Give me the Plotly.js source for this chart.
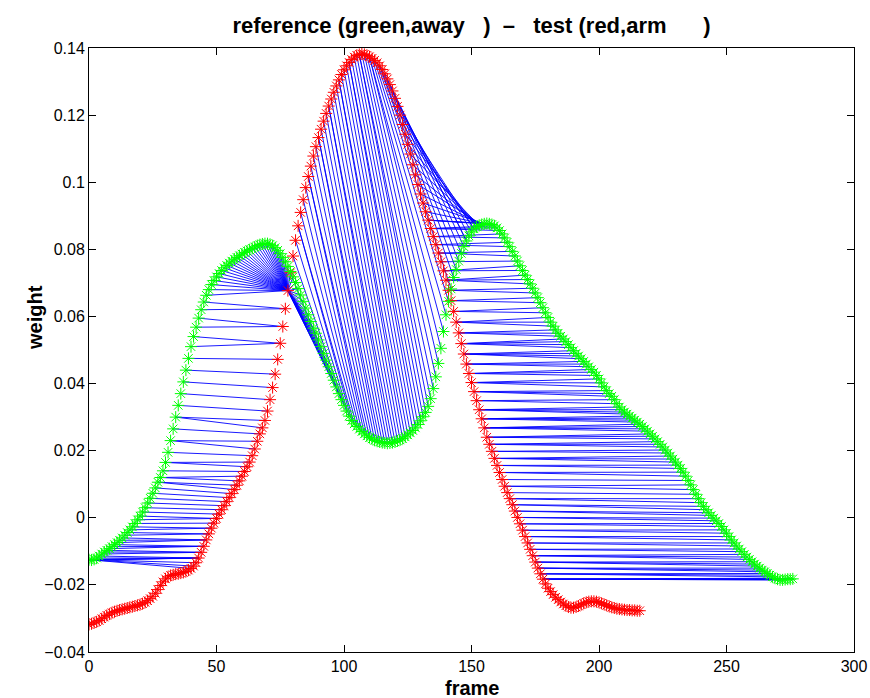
<!DOCTYPE html>
<html>
<head>
<meta charset="utf-8">
<script src="https://cdn.plot.ly/plotly-3.0.1.min.js"></script>
<style>html,body{margin:0;padding:0;background:#fff;}#chart{width:870px;height:698px;}</style>
</head>
<body>
<div id="chart"></div>
<script>
// Reference sequence (green, "away"), one value per frame starting at frame 0
const referenceWeight = [
-0.0125,-0.0126,-0.0124,-0.0120,-0.0114,-0.0108,-0.0102,-0.0097,-0.0092,-0.0086,
-0.0080,-0.0074,-0.0067,-0.0060,-0.0052,-0.0044,-0.0036,-0.0027,-0.0017,-0.0006,
0.0005,0.0017,0.0030,0.0044,0.0058,0.0073,0.0089,0.0106,0.0120,0.0140,
0.0165,0.0195,0.0230,0.0265,0.0300,0.0335,0.0370,0.0405,0.0440,0.0475,
0.0510,0.0540,0.0568,0.0595,0.0620,0.0643,0.0663,0.0680,0.0695,0.0707,
0.0718,0.0728,0.0737,0.0745,0.0752,0.0759,0.0765,0.0771,0.0776,0.0781,
0.0786,0.0791,0.0795,0.0799,0.0803,0.0807,0.0811,0.0814,0.0816,0.0817,
0.0817,0.0815,0.0811,0.0805,0.0797,0.0787,0.0776,0.0763,0.0749,0.0734,
0.0718,0.0701,0.0683,0.0664,0.0645,0.0625,0.0605,0.0585,0.0565,0.0550,
0.0530,0.0510,0.0490,0.0470,0.0450,0.0430,0.0410,0.0390,0.0370,0.0352,
0.0335,0.0318,0.0303,0.0290,0.0280,0.0272,0.0264,0.0257,0.0250,0.0244,
0.0239,0.0235,0.0231,0.0228,0.0226,0.0224,0.0223,0.0222,0.0223,0.0224,
0.0226,0.0229,0.0232,0.0236,0.0241,0.0247,0.0253,0.0260,0.0268,0.0278,
0.0289,0.0301,0.0314,0.0332,0.0355,0.0385,0.0420,0.0460,0.0505,0.0555,
0.0605,0.0645,0.0682,0.0716,0.0740,0.0765,0.0788,0.0808,0.0825,0.0840,
0.0852,0.0861,0.0867,0.0871,0.0874,0.0876,0.0877,0.0876,0.0874,0.0870,
0.0864,0.0856,0.0846,0.0834,0.0821,0.0808,0.0794,0.0780,0.0765,0.0751,
0.0737,0.0723,0.0710,0.0697,0.0684,0.0670,0.0656,0.0641,0.0626,0.0611,
0.0597,0.0583,0.0571,0.0560,0.0550,0.0541,0.0533,0.0525,0.0516,0.0507,
0.0498,0.0490,0.0482,0.0474,0.0466,0.0458,0.0450,0.0442,0.0434,0.0424,
0.0414,0.0402,0.0390,0.0379,0.0370,0.0362,0.0352,0.0340,0.0330,0.0322,
0.0315,0.0309,0.0303,0.0297,0.0291,0.0285,0.0279,0.0272,0.0265,0.0258,
0.0250,0.0243,0.0235,0.0227,0.0219,0.0211,0.0202,0.0193,0.0184,0.0175,
0.0166,0.0157,0.0147,0.0136,0.0124,0.0111,0.0098,0.0084,0.0070,0.0057,
0.0045,0.0034,0.0024,0.0015,0.0007,-0.0001,-0.0009,-0.0017,-0.0026,-0.0036,
-0.0046,-0.0056,-0.0066,-0.0075,-0.0084,-0.0093,-0.0101,-0.0109,-0.0117,-0.0124,
-0.0131,-0.0138,-0.0144,-0.0150,-0.0156,-0.0161,-0.0166,-0.0171,-0.0176,-0.0180,
-0.0183,-0.0185,-0.0185,-0.0184,-0.0183,-0.0183,-0.0182
];

// Test sequence (red, "arm"), one value per frame starting at frame 0
const testWeight = [
-0.0318,-0.0316,-0.0313,-0.0310,-0.0306,-0.0301,-0.0296,-0.0291,-0.0287,-0.0283,
-0.0280,-0.0277,-0.0275,-0.0273,-0.0271,-0.0269,-0.0267,-0.0265,-0.0263,-0.0261,
-0.0259,-0.0256,-0.0252,-0.0247,-0.0241,-0.0234,-0.0225,-0.0214,-0.0202,-0.0191,
-0.0182,-0.0176,-0.0172,-0.0170,-0.0168,-0.0167,-0.0165,-0.0163,-0.0160,-0.0156,
-0.0151,-0.0144,-0.0134,-0.0120,-0.0103,-0.0085,-0.0066,-0.0048,-0.0031,-0.0016,
-0.0002,0.0011,0.0024,0.0036,0.0048,0.0060,0.0072,0.0084,0.0097,0.0110,
0.0124,0.0138,0.0152,0.0166,0.0185,0.0205,0.0228,0.0250,0.0268,0.0290,
0.0318,0.0352,0.0388,0.0428,0.0472,0.0520,0.0570,0.0623,0.0677,0.0730,
0.0780,0.0827,0.0870,0.0910,0.0948,0.0984,0.1017,0.1048,0.1078,0.1106,
0.1133,0.1158,0.1182,0.1205,0.1227,0.1248,0.1268,0.1287,0.1305,0.1321,
0.1335,0.1347,0.1357,0.1366,0.1373,0.1378,0.1381,0.1382,0.1381,0.1378,
0.1374,0.1369,0.1363,0.1356,0.1347,0.1336,0.1323,0.1308,0.1291,0.1272,
0.1250,0.1226,0.1200,0.1172,0.1143,0.1113,0.1084,0.1052,0.1022,0.0993,
0.0965,0.0938,0.0912,0.0887,0.0862,0.0838,0.0814,0.0789,0.0763,0.0736,
0.0708,0.0678,0.0647,0.0615,0.0583,0.0551,0.0519,0.0488,0.0458,0.0430,
0.0403,0.0376,0.0349,0.0322,0.0295,0.0268,0.0240,0.0219,0.0198,0.0177,
0.0156,0.0135,0.0114,0.0094,0.0075,0.0057,0.0039,0.0020,0.0001,-0.0018,
-0.0037,-0.0056,-0.0075,-0.0094,-0.0113,-0.0132,-0.0150,-0.0167,-0.0183,-0.0197,
-0.0210,-0.0220,-0.0229,-0.0237,-0.0244,-0.0251,-0.0257,-0.0262,-0.0266,-0.0268,
-0.0268,-0.0266,-0.0263,-0.0259,-0.0255,-0.0252,-0.0250,-0.0249,-0.0249,-0.0250,
-0.0252,-0.0255,-0.0258,-0.0261,-0.0264,-0.0267,-0.0269,-0.0271,-0.0272,-0.0273,
-0.0274,-0.0275,-0.0275,-0.0276,-0.0276,-0.0277,-0.0277
];

// Warping path: pairs (reference frame, test frame) joined by blue lines
const warpRef = [
0,0,0,0,1,2,3,4,5,6,7,8,9,10,11,12,13,14,15,16,17,18,19,20,21,22,23,24,25,26,
27,27,28,28,29,30,30,31,32,32,33,34,34,35,36,37,38,39,40,41,42,43,44,45,
46,47,48,49,50,51,52,53,54,55,56,57,58,59,60,61,62,63,64,65,66,67,68,69,70,71,72,73,74,75,
76,77,78,79,80,81,82,83,84,85,86,87,88,89,90,91,92,93,94,95,96,97,98,99,
100,101,102,103,104,105,106,107,108,109,110,111,112,113,114,115,116,117,118,119,
120,121,122,123,124,125,126,127,128,129,130,131,132,133,134,135,136,137,138,139,
140,141,142,143,144,145,146,147,
148,148,149,150,151,151,152,152,153,153,153,154,154,155,155,
156,157,158,159,160,161,162,163,164,165,166,167,168,169,170,171,172,173,174,175,
176,177,178,179,180,181,182,183,184,185,186,187,188,189,190,191,192,193,194,195,
196,197,198,199,200,201,202,203,204,205,206,207,208,209,210,211,212,213,214,215,
216,217,218,219,220,221,222,223,224,225,226,227,228,229,230,231,232,233,234,235,
236,237,238,239,240,241,242,243,244,245,246,247,248,249,250,251,252,253,254,255,
256,257,258,259,260,261,262,263,264,265,266,267,268,269,270,271,272,273,274,275,276
];
const warpTest = [
40,41,42,43,43,43,43,43,44,44,44,45,45,45,46,46,46,47,47,48,48,49,50,50,51,52,53,54,55,56,
57,58,59,60,61,62,63,64,65,66,67,68,69,70,71,72,73,74,75,75,76,76,77,77,
78,78,78,78,78,78,78,78,78,78,78,78,78,78,78,78,78,78,78,78,78,78,78,78,78,78,78,78,78,78,
78,78,78,78,78,78,78,78,78,78,78,78,78,78,78,78,78,78,78,78,78,78,78,78,
79,80,81,82,82,83,84,85,86,86,87,88,89,90,90,91,92,93,94,94,
95,96,97,98,98,99,100,101,102,102,103,104,105,106,106,107,108,109,110,110,
111,112,113,114,114,115,116,117,
118,119,120,121,122,123,124,125,126,127,128,129,130,131,132,
133,133,133,134,134,134,135,135,136,136,137,137,138,139,139,140,140,140,141,141,
142,142,143,143,144,144,144,145,145,145,146,146,146,146,147,147,147,147,148,148,
148,149,149,149,150,150,150,151,151,151,152,152,153,153,153,153,154,154,154,154,
155,155,155,155,156,156,156,157,157,157,158,158,159,159,159,160,160,161,161,162,
163,163,164,165,165,166,166,167,167,168,168,169,169,170,170,171,171,172,172,173,
173,174,174,174,175,175,175,176,176,176,177,177,177,178,178,178,178,178,178,178,178
];

const sp = n => '\u00a0'.repeat(n);
const titleText = 'reference (green,away' + sp(3) + ')' + sp(2) + '\u2013' + sp(3) + 'test (red,arm' + sp(6) + ')';
const xLabel = 'frame';
const yLabel = 'weight';

const refFrames = referenceWeight.map((_, k) => k);
const testFrames = testWeight.map((_, k) => k);

const lx = [], ly = [];
for (let k = 0; k < warpRef.length; k++) {
  const i = warpRef[k], j = warpTest[k];
  lx.push(refFrames[i], testFrames[j], null);
  ly.push(referenceWeight[i], testWeight[j], null);
}

const traces = [
  {x: lx, y: ly, type: 'scatter', mode: 'lines', line: {color: '#0000ff', width: 0.9}, hoverinfo: 'skip', showlegend: false},
  {x: testFrames, y: testWeight, type: 'scatter', mode: 'markers',
   marker: {symbol: 'asterisk-open', size: 10, color: '#ff0000', line: {color: '#ff0000', width: 1}}, showlegend: false},
  {x: refFrames, y: referenceWeight, type: 'scatter', mode: 'markers',
   marker: {symbol: 'asterisk-open', size: 10, color: '#00ff00', line: {color: '#00ff00', width: 1}}, showlegend: false}
];

const FONT = 'Liberation Sans, Arial, Helvetica, sans-serif';
const axisCommon = {
  showgrid: false, zeroline: false, showline: true, linecolor: '#000', linewidth: 1,
  mirror: 'ticks', ticks: 'inside', ticklen: 7, tickcolor: '#000', tickwidth: 1,
  tickfont: {family: FONT, size: 16, color: '#000'}
};

const layout = {
  width: 870, height: 698,
  margin: {l: 89, r: 16, t: 48, b: 46},
  paper_bgcolor: '#fff', plot_bgcolor: '#fff',
  showlegend: false,
  title: {text: titleText, x: 0.5, xref: 'paper', y: 1 - 25/698, yref: 'container', yanchor: 'middle',
          font: {family: FONT, size: 22, color: '#000', weight: 'bold'}},
  xaxis: Object.assign({}, axisCommon, {range: [0, 300], tickvals: [0, 50, 100, 150, 200, 250, 300]}),
  yaxis: Object.assign({}, axisCommon, {range: [-0.04, 0.14], dtick: 0.02, tick0: 0}),
  annotations: [
    {text: xLabel, xref: 'paper', yref: 'paper', x: 0.5, y: (652 - 688) / 604, xanchor: 'center', yanchor: 'middle',
     showarrow: false, font: {family: FONT, size: 20, color: '#000', weight: 'bold'}},
    {text: yLabel, xref: 'paper', yref: 'paper', x: (35 - 89) / 765, y: (652 - 318) / 604, xanchor: 'center', yanchor: 'middle',
     textangle: -90, showarrow: false, font: {family: FONT, size: 20, color: '#000', weight: 'bold'}}
  ]
};

Plotly.newPlot('chart', traces, layout, {staticPlot: true, displayModeBar: false});
</script>
</body>
</html>
